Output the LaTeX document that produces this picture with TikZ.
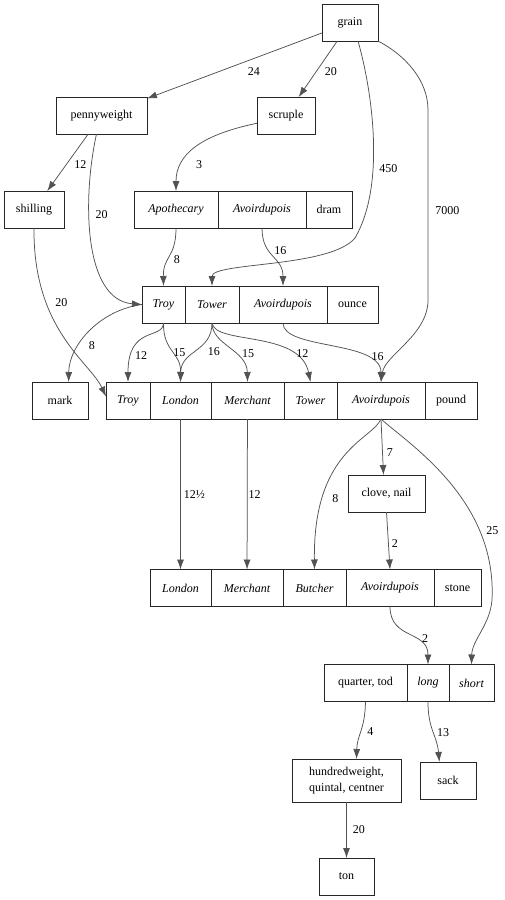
\documentclass[tikz,border=0pt]{standalone}
\usepackage{fontspec}
\setmainfont{Liberation Serif}
\usetikzlibrary{positioning,arrows.meta}

\begin{document}
\begin{tikzpicture}[x=1pt, y=-1pt, -{Latex[length=10pt,width=7pt]}, line width=0.75pt, black!68,
        font=\fontsize{12}{14}\selectfont,
        main/.style = {draw=black!85, line width=0.9pt, rectangle, minimum height=37pt, inner sep=2pt, outer sep=0pt, text=black},
        field/.style = {main, font=\fontsize{12}{14}\selectfont\itshape},
        lbl/.style = {inner sep=1pt, text=black}]
            \useasboundingbox (0,0) rectangle (504,900);

            \node[main, minimum width=56pt] (grain) at (350,22.5) {grain};
            \node[main, minimum width=91pt] (penny) at (101.5,115.5) {pennyweight};
            \node[main, minimum width=58pt] (scruple) at (286,115.5) {scruple};
            \node[main, minimum width=60pt] (shilling) at (34,209.5) {shilling};

            \node[field, minimum width=84pt, anchor=west] (drApoth) at (134,209.5) {Apothecary};
            \node[field, minimum width=88pt, right=0pt of drApoth] (drAvoir) {Avoirdupois};
            \node[main, minimum width=46pt, right=0pt of drAvoir] (dram) {dram};

            \node[field, minimum width=43pt, anchor=west] (ozTroy) at (142,304.5) {Troy};
            \node[field, minimum width=54pt, right=0pt of ozTroy] (ozTower) {Tower};
            \node[field, minimum width=88pt, right=0pt of ozTower] (ozAvoir) {Avoirdupois};
            \node[main, minimum width=51pt, right=0pt of ozAvoir] (ounce) {ounce};

            \node[main, minimum width=56pt] (mark) at (60,400.5) {mark};
            \node[field, minimum width=44pt, anchor=west] (lbTroy) at (106,400.5) {Troy};
            \node[field, minimum width=61pt, right=0pt of lbTroy] (lbLondon) {London};
            \node[field, minimum width=73pt, right=0pt of lbLondon] (lbMerchant) {Merchant};
            \node[field, minimum width=53pt, right=0pt of lbMerchant] (lbTower) {Tower};
            \node[field, minimum width=88pt, right=0pt of lbTower] (lbAvoir) {Avoirdupois};
            \node[main, minimum width=52pt, right=0pt of lbAvoir] (pound) {pound};

            \node[main, minimum width=77pt] (clove) at (386.5,493.5) {clove, nail};

            \node[field, minimum width=61pt, anchor=west] (stLondon) at (150,588) {London};
            \node[field, minimum width=72pt, right=0pt of stLondon] (stMerchant) {Merchant};
            \node[field, minimum width=63pt, right=0pt of stMerchant] (stButcher) {Butcher};
            \node[field, minimum width=88pt, right=0pt of stButcher] (stAvoir) {Avoirdupois};
            \node[main, minimum width=47pt, right=0pt of stAvoir] (stone) {stone};

            \node[main, minimum width=83pt, anchor=west] (qrTod) at (324,683) {quarter, tod};
            \node[field, minimum width=42pt, right=0pt of qrTod] (qrLong) {long};
            \node[field, minimum width=45pt, right=0pt of qrLong] (qrShort) {short};

            \node[main, minimum width=109pt, minimum height=43pt, align=center,
                  font=\fontsize{12}{16}\selectfont] (hundred) at (346.5,780.5) {hundredweight,\\quintal, centner};
            \node[main, minimum width=56pt] (sack) at (448,780.5) {sack};
            \node[main, minimum width=55pt] (ton) at (346.5,876.5) {ton};

            \path (grain) edge node[lbl, pos=0.39, below=8pt] {24} (penny);
            \path (grain) edge node[lbl, pos=0.54, right=7pt] {20} (scruple);
            \draw ([xshift=8pt]grain.south) .. controls (372,90) and (386,185) .. (355,238)
                node[lbl, pos=0.64, right=5pt] {450}
                .. controls (330,268) and (212,262) .. (ozTower.north);
            \draw (grain.south east) .. controls (405,55) and (428,80) .. (428,110)
                -- node[lbl, pos=0.53, right=6pt] {7000} (428,300)
                .. controls (428,335) and (385,355) .. (lbAvoir.north);

            \path (penny) edge node[lbl, pos=0.54, right=7pt] {12} (shilling);
            \draw ([xshift=-5pt]penny.south) .. controls (82,200) and (84,300) .. (ozTroy.west)
                node[lbl, pos=0.37, right=5pt] {20};
            \draw (scruple.195) .. controls (200,135) and (176,155) .. (drApoth.north)
                node[lbl, pos=0.72, right=13pt] {3};
            \draw (shilling.south) .. controls (33,330) and (90,362) .. ([yshift=4pt]lbTroy.west)
                node[lbl, pos=0.3, right=8pt] {20};

            \draw (drAvoir.south) .. controls (262,258) and (283,256) .. (ozAvoir.north)
                node[lbl, pos=0.35, right=5pt] {16};
            \draw (drApoth.south) .. controls (176,258) and (163,256) .. (ozTroy.north)
                node[lbl, pos=0.55, right=4pt] {8};

            \draw (ozTroy.west) .. controls (100,310) and (69,345) .. (mark.65)
                node[lbl, pos=0.65, right=8pt] {8};
            \draw (ozTroy.south) .. controls (163,340) and (128,325) .. (lbTroy.north)
                node[lbl, pos=0.8, right=2pt] {12};
            \draw (ozTroy.south) .. controls (163,352) and (181,352) .. (lbLondon.north)
                node[lbl, pos=0.5, right=0pt] {15};
            \draw (ozTower.south) .. controls (212,352) and (181,350) .. (lbLondon.north)
                node[lbl, pos=0.5, right=10pt] {16};
            \draw (ozTower.south) .. controls (212,345) and (247,350) .. (lbMerchant.north)
                node[lbl, pos=0.6, right=6pt] {15};
            \draw (ozTower.south) .. controls (215,345) and (300,330) .. (lbTower.north)
                node[lbl, pos=0.75, right=4pt] {12};
            \draw (ozAvoir.south) .. controls (283,350) and (381,340) .. (lbAvoir.north)
                node[lbl, pos=0.72, right=8pt] {16};

            \path (lbLondon) edge node[lbl, right=2pt] {12½} (stLondon);
            \path (lbMerchant) edge node[lbl, right=0pt] {12} (stMerchant);
            \draw (lbAvoir.south) .. controls (372,440) and (313,450) .. (stButcher.north)
                node[lbl, pos=0.75, right=8pt] {8};
            \draw (lbAvoir.south) -- node[lbl, pos=0.6, right=3pt] {7} ([xshift=-3pt]clove.north);
            \draw (lbAvoir.south) .. controls (410,445) and (497,500) .. (492,600)
                node[lbl, pos=0.74, right=5pt] {25}
                .. controls (490,625) and (472,640) .. (qrShort.north);

            \path (clove.south) edge node[lbl, pos=0.55, right=2pt] {2} (stAvoir.north);
            \draw (stAvoir.south) .. controls (390,640) and (428,630) .. (qrLong.north)
                node[lbl, pos=0.6, right=6pt] {2};

            \draw (qrTod.south) .. controls (365,730) and (357,735) .. (hundred.65)
                node[lbl, pos=0.5, right=5pt] {4};
            \draw (qrLong.south) .. controls (428,730) and (437,735) .. (sack.115)
                node[lbl, pos=0.5, right=3pt] {13};
            \path (hundred) edge node[lbl, right=5pt] {20} (ton);
        \end{tikzpicture}
\end{document}
